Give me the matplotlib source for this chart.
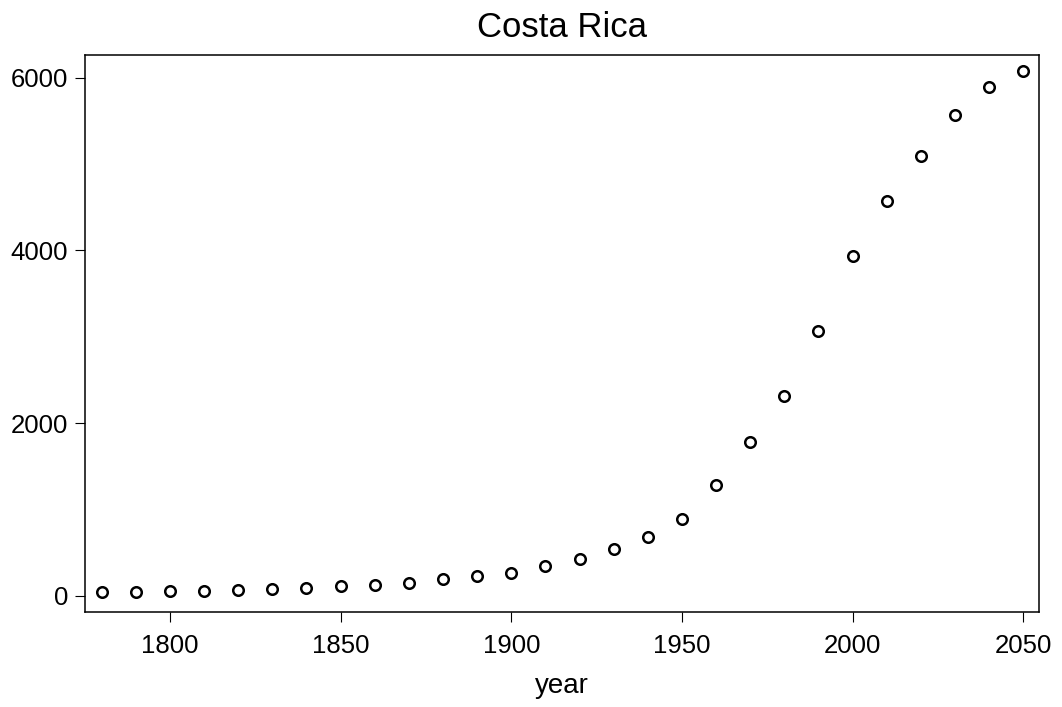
import numpy as np
import matplotlib
matplotlib.use("Agg")
import matplotlib.pyplot as plt

plt.rcParams["font.family"] = ["Liberation Sans", "DejaVu Sans"]

# population (thousands) by decade
years = [1780, 1790, 1800, 1810, 1820, 1830, 1840, 1850, 1860, 1870,
         1880, 1890, 1900, 1910, 1920, 1930, 1940, 1950, 1960, 1970,
         1980, 1990, 2000, 2010, 2020, 2030, 2040, 2050]
population = [46, 46, 54, 50, 62, 74, 89, 109, 124, 151,
              190, 228, 263, 348, 425, 537, 680, 892, 1282, 1784,
              2317, 3066, 3935, 4576, 5093, 5568, 5896, 6081]
x_ticks = [1800, 1850, 1900, 1950, 2000, 2050]
y_ticks = [0, 2000, 4000, 6000]

fig = plt.figure(figsize=(10.62, 7.07), dpi=100, facecolor="white")
ax = fig.add_axes([0.0800, 0.1348, 0.8983, 0.7878])

ax.plot(years, population, "o", ms=7.6, mfc="white", mec="black", mew=1.8,
        ls="none", clip_on=False)

ax.set_xlim(1775.1, 2054.6)
ax.set_ylim(-185, 6267)
ax.set_xticks(x_ticks)
ax.set_yticks(y_ticks)
ax.tick_params(axis="both", direction="out", length=7, width=0.8,
               labelsize=18.5, color="black")
ax.tick_params(axis="x", pad=9)
ax.tick_params(axis="y", pad=5)
for s in ax.spines.values():
    s.set_linewidth(1.1)
    s.set_color("black")
ax.set_title("Costa Rica", fontsize=25, pad=13)
ax.set_xlabel("year", fontsize=20, labelpad=11)

fig.savefig("out.png", dpi=100, facecolor="white")
